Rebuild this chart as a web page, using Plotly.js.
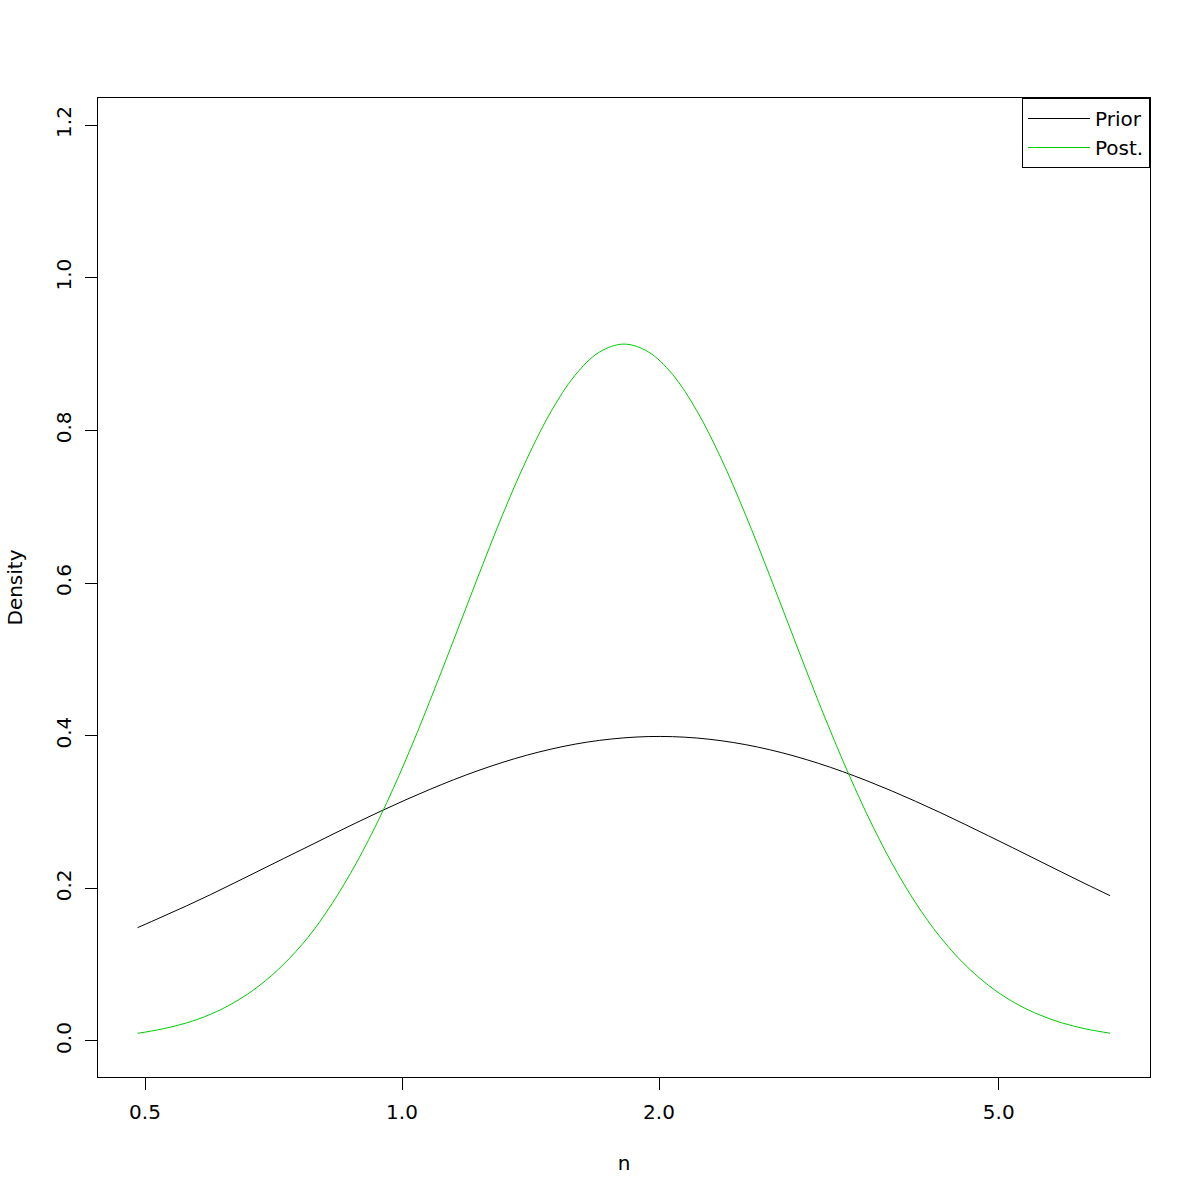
<!DOCTYPE html>
<html>
<head>
<meta charset="utf-8">
<script src="https://cdn.plot.ly/plotly-3.0.1.min.js"></script>
<style>html,body{margin:0;padding:0;background:#fff;}#chart{width:1200px;height:1200px;}</style>
</head>
<body>
<div id="chart"></div>
<script>
// Values (n on a log axis, density on a linear axis)
const nValues = [0.490, 0.523, 0.559, 0.597, 0.637, 0.680, 0.726, 0.776, 0.828, 0.884,
  0.944, 1.008, 1.076, 1.149, 1.227, 1.310, 1.399, 1.494, 1.595, 1.703,
  1.819, 1.942, 2.074, 2.214, 2.364, 2.524, 2.695, 2.878, 3.073, 3.282,
  3.504, 3.741, 3.995, 4.265, 4.554, 4.863, 5.193, 5.545, 5.920, 6.322, 6.750];
const priorDensity = [0.1484, 0.1624, 0.1769, 0.1919, 0.2073, 0.2230, 0.2388, 0.2547, 0.2704, 0.2859,
  0.3010, 0.3155, 0.3292, 0.3422, 0.3541, 0.3648, 0.3743, 0.3823, 0.3889, 0.3938,
  0.3971, 0.3988, 0.3987, 0.3969, 0.3934, 0.3883, 0.3816, 0.3734, 0.3638, 0.3529,
  0.3409, 0.3279, 0.3140, 0.2995, 0.2843, 0.2688, 0.2531, 0.2372, 0.2214, 0.2057, 0.1904];
const postDensity = [0.0100, 0.0156, 0.0236, 0.0351, 0.0509, 0.0722, 0.1001, 0.1357, 0.1799, 0.2331,
  0.2953, 0.3658, 0.4431, 0.5248, 0.6077, 0.6880, 0.7615, 0.8243, 0.8723, 0.9025,
  0.9130, 0.9030, 0.8733, 0.8258, 0.7635, 0.6901, 0.6100, 0.5271, 0.4453, 0.3678,
  0.2971, 0.2346, 0.1811, 0.1368, 0.1010, 0.0729, 0.0514, 0.0355, 0.0239, 0.0158, 0.0102];
const xTickVals = [0.5, 1, 2, 5];
const xTickText = ["0.5", "1.0", "2.0", "5.0"];
const yTickVals = [0, 0.2, 0.4, 0.6, 0.8, 1.0, 1.2];
const yTickText = ["0.0", "0.2", "0.4", "0.6", "0.8", "1.0", "1.2"];
const seriesNames = ["Prior", "Post."];
const seriesColors = ["#000000", "#00CD00"];

const FONT = "DejaVu Sans, Liberation Sans, sans-serif";
const FS = 20;

const traces = [
  {x: nValues, y: priorDensity, name: seriesNames[0], type: "scatter", mode: "lines",
   line: {color: seriesColors[0], width: 1, shape: "spline", smoothing: 1}},
  {x: nValues, y: postDensity, name: seriesNames[1], type: "scatter", mode: "lines",
   line: {color: seriesColors[1], width: 1, shape: "spline", smoothing: 1}}
];

const layout = {
  width: 1200, height: 1200,
  paper_bgcolor: "#ffffff", plot_bgcolor: "#ffffff",
  margin: {l: 98, r: 50, t: 98, b: 123},
  font: {family: FONT, size: FS, color: "#000"},
  showlegend: true,
  legend: {
    x: 1, y: 1, xanchor: "right", yanchor: "top",
    bordercolor: "#000", borderwidth: 1, bgcolor: "#fff",
    font: {family: FONT, size: FS, color: "#000"},
    tracegroupgap: 0, itemwidth: 62
  },
  xaxis: {
    type: "log",
    range: [-0.3561, 0.8761],
    tickmode: "array", tickvals: xTickVals, ticktext: xTickText,
    ticks: "outside", ticklen: 12, tickcolor: "#000", tickwidth: 1,
    showline: true, mirror: true, linecolor: "#000", linewidth: 1,
    showgrid: false, zeroline: false,
    tickfont: {family: FONT, size: FS, color: "#000"},
    ticklabelstandoff: 5,
    title: {text: "n", font: {family: FONT, size: FS, color: "#000"}, standoff: 32}
  },
  yaxis: {
    range: [-0.0472, 1.2354],
    tickmode: "array", tickvals: yTickVals, ticktext: yTickText,
    tickangle: -90,
    ticks: "outside", ticklen: 12, tickcolor: "#000", tickwidth: 1,
    showline: true, mirror: true, linecolor: "#000", linewidth: 1,
    showgrid: false, zeroline: false,
    tickfont: {family: FONT, size: FS, color: "#000"},
    ticklabelstandoff: 6,
    title: {text: "Density", font: {family: FONT, size: FS, color: "#000"}, standoff: 24}
  }
};

Plotly.newPlot("chart", traces, layout, {staticPlot: true, displayModeBar: false});
</script>
</body>
</html>
